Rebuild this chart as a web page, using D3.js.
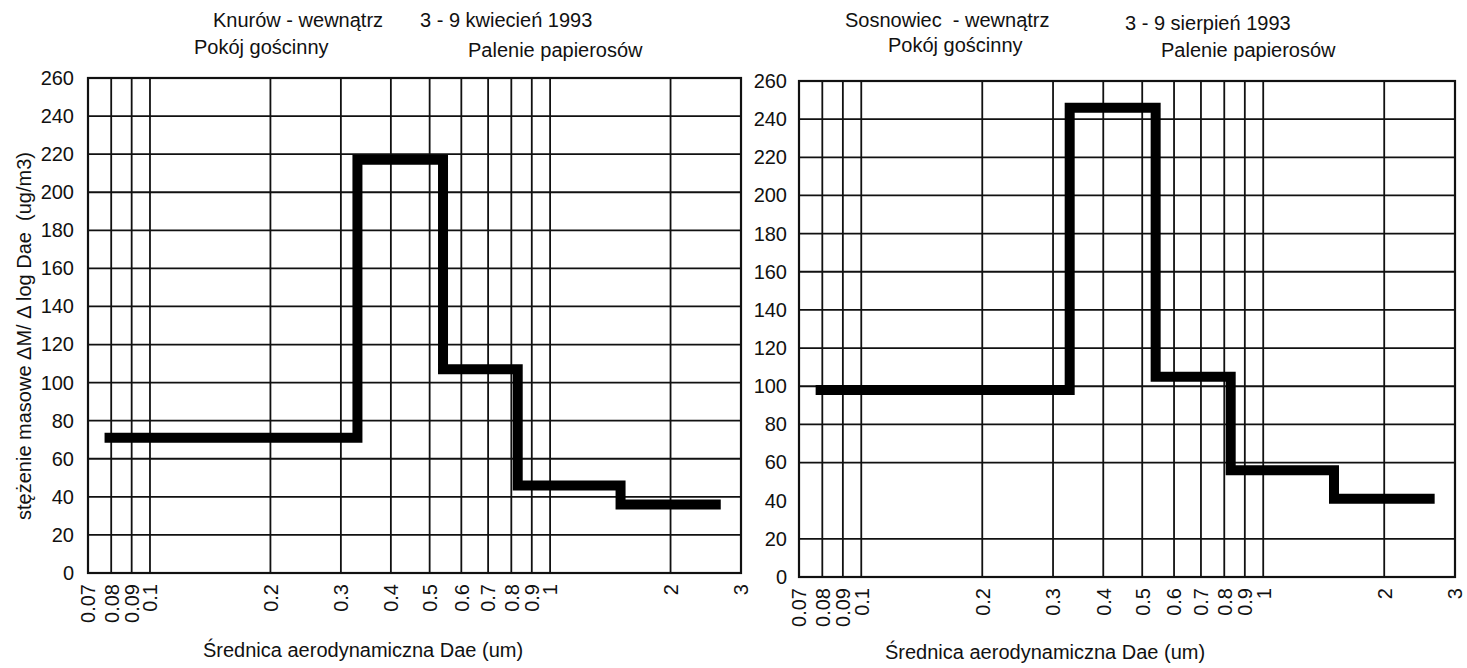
<!DOCTYPE html>
<html>
<head>
<meta charset="utf-8">
<script src="https://cdn.jsdelivr.net/npm/d3@7"></script>
<style>
    body { margin: 0; background: #fff; }
    svg text { font-family: "Liberation Sans", Arial, sans-serif; fill: #111; white-space: pre; }
</style>
</head>
<body>
<svg id="chart" width="1467" height="668"></svg>
<script>
// x axis: aerodynamic diameter (um), log scale
const diameterTicks = [0.07, 0.08, 0.09, 0.1, 0.2, 0.3, 0.4, 0.5, 0.6, 0.7, 0.8, 0.9, 1, 2, 3]
// y axis: mass concentration dM/dlogDae (ug/m3)
const concTicks = [0, 20, 40, 60, 80, 100, 120, 140, 160, 180, 200, 220, 240, 260]

// impactor stage boundaries (same for both sites)
const stageEdges = [0.077, 0.33, 0.54, 0.83, 1.5, 2.67]

const knurowValues = [71, 217, 107, 46, 36]
const sosnowiecValues = [98, 246, 105, 56, 41]

// the 40 grid line is missing on the Sosnowiec plot in the original
const knurowGridY = concTicks
const sosnowiecGridY = concTicks.filter(d => d !== 40)

const svg = d3.select('#chart')

function panel (opts) {
    const x = d3.scaleLog().domain([0.07, 3]).range(opts.xRange)
    const y = d3.scaleLinear().domain([0, 260]).range(opts.yRange)
    const g = svg.append('g').attr('class', 'panel')
    const [x0, x1] = opts.xRange
    const [y0, y1] = opts.yRange

    // grid
    const grid = g.append('g').attr('class', 'grid')
        .attr('stroke', '#111').attr('stroke-width', 1.8)
    grid.selectAll('line.vx')
        .data(diameterTicks)
        .join('line')
        .attr('class', 'vx')
        .attr('x1', d => x(d)).attr('x2', d => x(d))
        .attr('y1', y0).attr('y2', y1)
    grid.selectAll('line.hy')
        .data(opts.gridY)
        .join('line')
        .attr('class', 'hy')
        .attr('x1', x0).attr('x2', x1)
        .attr('y1', d => y(d)).attr('y2', d => y(d))
    g.append('rect')
        .attr('x', x0).attr('y', y1)
        .attr('width', x1 - x0).attr('height', y0 - y1)
        .attr('fill', 'none').attr('stroke', '#111').attr('stroke-width', 2.2)

    // y axis labels
    const ya = g.append('g')
        .attr('transform', `translate(${x0},0)`)
        .call(d3.axisLeft(y).tickValues(concTicks).tickSize(0).tickPadding(opts.yPad))
    ya.select('.domain').remove()
    ya.selectAll('text').attr('font-size', 20).attr('fill', '#111')

    // x axis labels, rotated
    const xa = g.append('g')
        .attr('transform', `translate(0,${y0})`)
        .call(d3.axisBottom(x).tickValues(diameterTicks).tickSize(0).tickFormat(d => String(d)))
    xa.select('.domain').remove()
    xa.selectAll('text')
        .attr('font-size', 20).attr('fill', '#111')
        .attr('transform', 'rotate(-90)')
        .attr('text-anchor', 'end')
        .attr('x', -11).attr('y', 0).attr('dy', '0.34em')

    // step curve
    const pts = opts.values.map((v, i) => [stageEdges[i], v])
    pts.push([stageEdges[stageEdges.length - 1], opts.values[opts.values.length - 1]])
    const line = d3.line()
        .x(d => x(d[0]))
        .y(d => y(d[1]))
        .curve(d3.curveStepAfter)
    g.append('path')
        .datum(pts)
        .attr('d', line)
        .attr('fill', 'none')
        .attr('stroke', '#000')
        .attr('stroke-width', 10)
        .attr('stroke-linejoin', 'miter')

    // titles
    opts.titles.forEach(t => {
        g.append('text')
            .attr('x', t.x).attr('y', t.y)
            .attr('font-size', 20)
            .text(t.text)
    })
}

panel({
    xRange: [88, 741],
    yRange: [573, 78],
    yPad: 14,
    values: knurowValues,
    gridY: knurowGridY,
    titles: [
        { text: 'Knurów - wewnątrz', x: 213, y: 27 },
        { text: '3 - 9 kwiecień 1993', x: 420, y: 27 },
        { text: 'Pokój gościnny', x: 194, y: 54 },
        { text: 'Palenie papierosów', x: 468, y: 57 },
        { text: 'Średnica aerodynamiczna Dae (um)', x: 203, y: 657 }
    ]
})

panel({
    xRange: [799, 1455],
    yRange: [577, 81],
    yPad: 12,
    values: sosnowiecValues,
    gridY: sosnowiecGridY,
    titles: [
        { text: 'Sosnowiec  - wewnątrz', x: 845, y: 27 },
        { text: '3 - 9 sierpień 1993', x: 1125, y: 30 },
        { text: 'Pokój gościnny', x: 888, y: 52 },
        { text: 'Palenie papierosów', x: 1161, y: 57 },
        { text: 'Średnica aerodynamiczna Dae (um)', x: 885, y: 659 }
    ]
})

// y axis title (left plot only)
svg.append('text')
    .attr('transform', 'translate(31,336) rotate(-90)')
    .attr('text-anchor', 'middle')
    .attr('font-size', 20)
    .text('stężenie masowe \u0394M/ \u0394 log Dae  (ug/m3)')
</script>
</body>
</html>
